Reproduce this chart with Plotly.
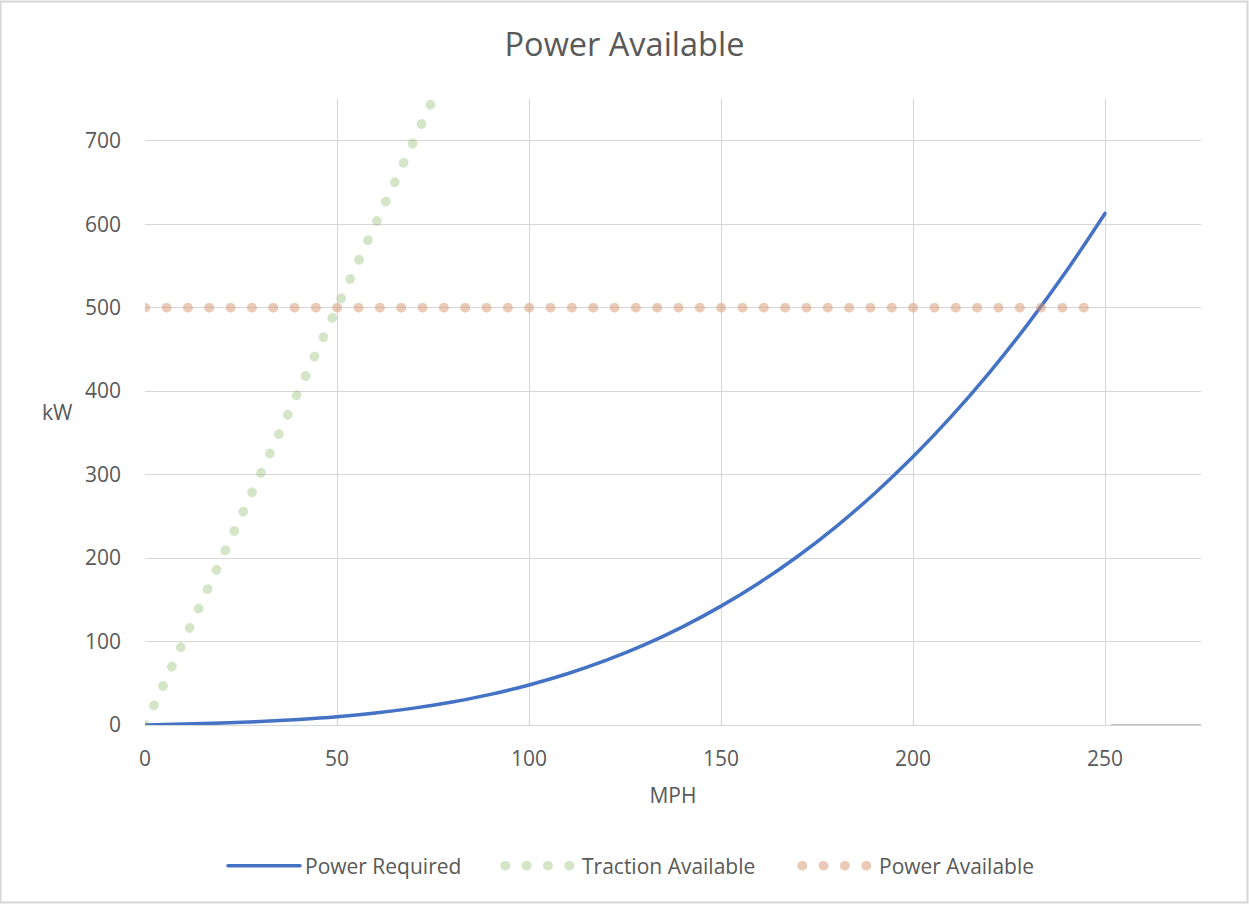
import plotly.graph_objects as go

# ---- data -------------------------------------------------------------
speed_mph = [0, 10, 20, 30, 40, 50, 60, 70, 80, 90, 100, 110, 120, 130,
             140, 150, 160, 170, 180, 190, 200, 210, 220, 230, 240, 250]
power_required_kw = [0, 1.1, 2.4, 4.1, 6.6, 9.9, 14.4, 20.2, 27.6, 36.7, 48.0,
                     61.4, 77.4, 96.0, 117.6, 142.4, 170.5, 202.2, 237.8, 277.4,
                     321.3, 369.7, 422.8, 480.9, 544.2, 612.9]

traction_speed_mph = [0, 25, 50, 75]
traction_available_kw = [0, 250, 500, 750]

available_speed_mph = [0, 50, 100, 150, 200, 245]
power_available_kw = [500, 500, 500, 500, 500, 500]

x_tick_values = [0, 50, 100, 150, 200, 250]
y_tick_values = [0, 100, 200, 300, 400, 500, 600, 700]
x_axis_max = 275
y_axis_max = 750

# ---- styling ----------------------------------------------------------
FONT = "Open Sans"
TEXT_GREY = "#595959"
GRID_GREY = "#D6D6D6"
W, H = 1249, 904
M_L, M_R, M_T, M_B = 145, 48, 99, 179
DOTS = "0.5px,20.83px"

fig = go.Figure()

fig.add_trace(go.Scatter(
    x=speed_mph, y=power_required_kw, mode="lines", name="Power Required",
    line=dict(color="#4472C4", width=3.5, shape="spline"),
    legend="legend",
))
fig.add_trace(go.Scatter(
    x=traction_speed_mph, y=traction_available_kw, mode="lines",
    name="Traction Available",
    line=dict(color="rgba(112,173,71,0.30)", width=9.5, dash=DOTS),
    legend="legend2",
))
fig.add_trace(go.Scatter(
    x=available_speed_mph, y=power_available_kw, mode="lines",
    name="Power Available",
    line=dict(color="rgba(214,150,110,0.50)", width=9.5, dash=DOTS),
    legend="legend3",
))

plot_w = W - M_L - M_R
plot_h = H - M_T - M_B

legend_common = dict(
    orientation="h", xref="container", yref="container",
    yanchor="middle", y=1 - 866 / H, xanchor="left",
    font=dict(family=FONT, size=21, color=TEXT_GREY),
    itemwidth=72, bgcolor="rgba(0,0,0,0)", traceorder="normal",
)

fig.update_layout(
    width=W, height=H,
    margin=dict(l=M_L, r=M_R, t=M_T, b=M_B),
    paper_bgcolor="white", plot_bgcolor="white",
    font=dict(family=FONT, color=TEXT_GREY),
    title=dict(text="Power Available", x=0.5, xref="container",
               y=1 - 45 / H, yref="container", xanchor="center", yanchor="middle",
               font=dict(family=FONT, size=32.5, color=TEXT_GREY)),
    legend=dict(legend_common, x=223 / W),
    legend2=dict(legend_common, x=500 / W),
    legend3=dict(legend_common, x=797 / W),
    showlegend=True,
    xaxis=dict(
        range=[0, x_axis_max], tickvals=x_tick_values,
        showgrid=True, gridcolor=GRID_GREY, gridwidth=1.2,
        zeroline=False, showline=True, linecolor=GRID_GREY, linewidth=1.2,
        ticks="", ticklabelstandoff=15,
        tickfont=dict(family=FONT, size=21, color=TEXT_GREY),
        title=dict(text="MPH", standoff=17,
                   font=dict(family=FONT, size=21, color=TEXT_GREY)),
    ),
    yaxis=dict(
        range=[0, y_axis_max], tickvals=y_tick_values,
        showgrid=True, gridcolor=GRID_GREY, gridwidth=1.2,
        zeroline=False, showline=False,
        ticks="", ticklabelstandoff=23,
        tickfont=dict(family=FONT, size=21, color=TEXT_GREY),
    ),
    annotations=[dict(
        text="kW", xref="paper", yref="paper",
        x=-(M_L - 57) / plot_w, y=0.5, xanchor="center", yanchor="middle",
        showarrow=False, font=dict(family=FONT, size=21, color=TEXT_GREY),
    )],
    shapes=[
        # outer chart border
        dict(type="rect", xref="paper", yref="paper",
             x0=-(M_L - 0.5) / plot_w, x1=1 + (M_R - 1.5) / plot_w,
             y0=-(M_B - 1.5) / plot_h, y1=1 + (M_T - 1.5) / plot_h,
             line=dict(color=GRID_GREY, width=2), layer="below"),
        # axis segment beyond the last speed sample
        dict(type="line", xref="x", yref="y",
             x0=speed_mph[-1] + 1.5, x1=x_axis_max, y0=0, y1=0,
             line=dict(color="#BFBFBF", width=2)),
    ],
)

# round caps so the dotted dash pattern renders as circular dots
post = """
var gd = document.getElementById('{plot_id}');
function roundDots() {
  gd.querySelectorAll('path.js-line').forEach(function (p) {
    p.style.strokeLinecap = 'round';
  });
}
roundDots();
gd.on('plotly_afterplot', roundDots);
"""

fig.write_html("out.html", post_script=post)
